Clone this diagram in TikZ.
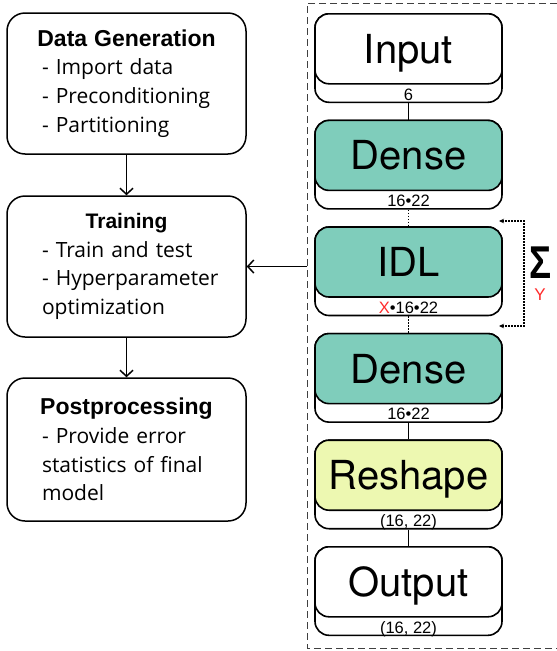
\documentclass[tikz,border=0pt]{standalone}
\usepackage{fontspec}
\setmainfont{Open Sans}
\newfontfamily\headfont{Liberation Sans}
\newfontfamily\layerfont{TeX Gyre Heros}
\usetikzlibrary{arrows.meta}

\definecolor{densegreen}{HTML}{7FCDBB}
\definecolor{reshapeyellow}{HTML}{EDF8B1}
\definecolor{dimred}{HTML}{FF2A2A}

\newcommand{\stagehead}[2]{{\centering\hbox to 0pt{\hss\headfont\bfseries\fontsize{#1}{28.7}\selectfont #2\hss}\par}}

\begin{document}
\begin{tikzpicture}[x=1pt,y=-1pt,>={Straight Barb[length=6pt,width=13pt]},line width=1.5pt,
  stage/.style={draw,rounded corners=18pt,minimum width=239pt,minimum height=141pt,
    text width=169pt,align=left,inner sep=0pt,font=\fontsize{21}{28.7}\selectfont},
  layerbase/.style={draw,fill=white,rounded corners=14pt,line width=1.6pt,
    minimum width=187pt,minimum height=88.5pt,inner sep=0pt},
  layer/.style={draw,fill=white,rounded corners=14pt,line width=1.6pt,minimum width=187pt,
    minimum height=70pt,inner sep=0pt,anchor=north,text height=28.8pt,text depth=0pt,
    font=\layerfont\fontsize{40}{48}\selectfont},
  dimlabel/.style={anchor=base,yshift=3pt,inner sep=0pt,font=\headfont\fontsize{16.5}{18}\selectfont},
  skipline/.style={line width=1.4pt,dash pattern=on 1.5pt off 1.5pt},
  frame/.style={line width=0.9pt,draw=black!75,dash pattern=on 7pt off 4pt}]

  \useasboundingbox (0,0) rectangle (557,651);

  % workflow
  \node[stage] (datagen) at (126.5,83.5) {\stagehead{23}{Data Generation}
    -~Import~data\\ -~Preconditioning\\ -~Partitioning};
  \node[stage,below of=datagen,node distance=183pt] (training) {\stagehead{21}{Training}
    -~Train~and~test\\ \mbox{-~Hyperparameter}\\ optimization};
  \node[stage,below of=training,node distance=183pt,minimum height=143pt] (postproc) {\stagehead{23}{Postprocessing}
    -~Provide~error\\ statistics~of~final\\ model};

  \draw[->] (datagen) -- (training);
  \draw[->] (training) -- (postproc);

  % network
  \coordinate (frametl) at (307,3);
  \coordinate (framebl) at (307,648);
  \draw[frame] (557,3) -- (frametl) -- (framebl) -- (557,648);

  \node[layerbase,anchor=north] (inputb) at (408.5,13) {};
  \node[layerbase,below of=inputb,node distance=106.6pt] (denseoneb) {};
  \node[layerbase,below of=denseoneb,node distance=106.6pt] (idlb) {};
  \node[layerbase,below of=idlb,node distance=106.6pt] (densetwob) {};
  \node[layerbase,below of=densetwob,node distance=106.6pt] (reshapeb) {};
  \node[layerbase,below of=reshapeb,node distance=106.6pt] (outputb) {};

  \node[layer] (input) at (inputb.north) {Input};
  \node[layer,fill=densegreen] (denseone) at (denseoneb.north) {Dense};
  \node[layer,fill=densegreen] (idl) at (idlb.north) {IDL};
  \node[layer,fill=densegreen] (densetwo) at (densetwob.north) {Dense};
  \node[layer,fill=reshapeyellow] (reshape) at (reshapeb.north) {Reshape};
  \node[layer] (output) at (outputb.north) {Output};

  \node[dimlabel] (inputdim) at (inputb.south) {6};
  \node[dimlabel] (denseonedim) at (denseoneb.south) {16•22};
  \node[dimlabel] (idldim) at (idlb.south) {\textcolor{dimred}{X}•16•22};
  \node[dimlabel] (densetwodim) at (densetwob.south) {16•22};
  \node[dimlabel] (reshapedim) at (reshapeb.south) {(16, 22)};
  \node[dimlabel] (outputdim) at (outputb.south) {(16, 22)};

  \draw (inputb) -- (denseone);
  \draw[skipline] (denseoneb) -- (idl);
  \draw[skipline] (idlb) -- (densetwo);
  \draw (densetwob) -- (reshape);
  \draw (reshapeb) -- (output);

  % repeated IDL
  \coordinate (loopin) at (499,221);
  \coordinate (loopout) at (499,326);
  \draw[skipline,{Stealth[length=5pt,width=4.5pt]}-{Stealth[length=5pt,width=4.5pt]}] (loopin) -- ++(25,0) |- (loopout);
  \node[font=\headfont\bfseries\fontsize{46}{50}\selectfont,xscale=.8,inner sep=0pt] (sigma) at (541,263) {Σ};
  \node[text=dimred,font=\headfont\fontsize{17}{20}\selectfont,inner sep=0pt] (sumidx) at (540,295) {Y};

  \draw[->] (frametl |- training.east) -- (training);
\end{tikzpicture}
\end{document}
